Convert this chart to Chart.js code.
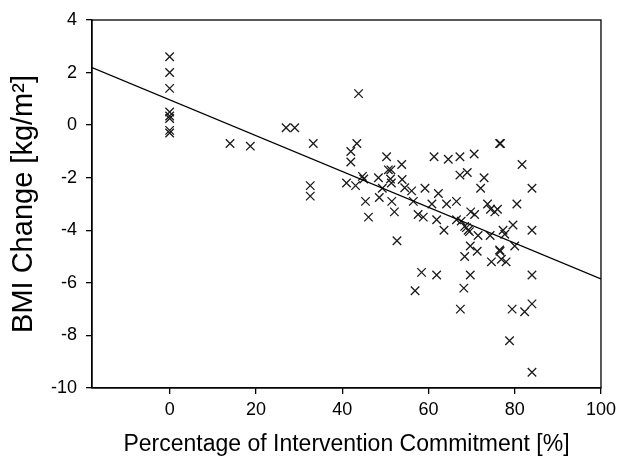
<!DOCTYPE html>
<html>
<head>
<meta charset="utf-8">
<script src="https://cdn.jsdelivr.net/npm/chart.js@4/dist/chart.umd.min.js"></script>
<style>
  html, body { margin: 0; padding: 0; background: #fff; }
  #grafico { display: block; }
</style>
</head>
<body>
<canvas id="grafico" width="621" height="462"></canvas>
<script>
// commitment [%] vs BMI change
const commitX = [
  0, 0, 0, 0, 0, 0, 0, 0,
  14, 18.7, 27, 29, 33.3, 32.6, 32.6,
  41, 42, 42, 43.4, 43.8, 43.1, 44.7, 45, 45.4, 46.1,
  48.4, 48.6, 49.3, 50.3, 50.7, 51.3, 51.2, 51.4, 51.5, 52.1, 52.7,
  53.8, 53.9, 54.5, 56.1, 56.5, 56.9, 57.6, 58.4, 58.8, 59.2,
  60.8, 61.3, 61.9, 61.9, 62.3, 63.6, 64.2, 64.6,
  66.5, 66.5, 67.3, 67.3, 67.6, 67.4, 68.2, 68.4, 68.4, 68.8,
  69.0, 69.2, 69.5, 69.7, 69.7, 69.8, 70.6, 70.7, 71.3, 71.5,
  72.1, 72.9, 73.7, 74.3, 74.4, 74.6, 75.4, 76.0,
  76.5, 76.7, 76.5, 76.6, 76.9, 77.3, 77.7, 78.0, 78.8, 79.4, 79.6,
  80.0, 80.5, 81.7, 82.3, 84, 84, 84, 84, 84
];
const bmiChange = [
  2.6, 2.0, 1.4, 0.5, 0.35, 0.25, -0.2, -0.3,
  -0.7, -0.8, -0.1, -0.1, -0.7, -2.3, -2.7,
  -2.2, -1.0, -1.4, -0.7, 1.2, -2.3, -1.95, -2.05, -2.9, -3.5,
  -2.0, -2.75, -2.4, -1.2, -1.7, -1.7, -2.05, -2.2, -2.9, -3.3, -4.4,
  -1.5, -2.07, -2.38, -2.5, -2.9, -6.3, -3.4, -5.6, -3.5, -2.4,
  -3.0, -1.2, -3.6, -5.7, -2.6, -4.0, -3.0, -1.3,
  -2.9, -3.6, -1.2, -1.9, -3.65, -7.0, -6.2, -3.85, -5.0, -3.9,
  -1.8, -4.0, -4.05, -4.6, -5.7, -3.3, -1.1, -3.4, -4.8, -4.2,
  -2.4, -2.0, -3.0, -4.2, -3.2, -5.2, -3.3, -3.2,
  -0.7, -0.7, -4.75, -4.8, -5.1, -4.0, -4.15, -5.2, -8.2, -7.0, -3.8,
  -4.6, -3.0, -1.5, -7.1, -2.4, -4.0, -5.7, -6.8, -9.4
];

// regression line end points
const fitX = [-18, 100];
const fitY = [2.19, -5.85];

const xTicks = [0, 20, 40, 60, 80, 100];

const pontos = commitX.map((x, i) => ({ x: x, y: bmiChange[i] }));
const reta = fitX.map((x, i) => ({ x: x, y: fitY[i] }));

// moldura do gráfico (topo e direita)
const moldura = {
  id: "moldura",
  afterDraw(chart) {
    const { ctx, chartArea } = chart;
    ctx.save();
    ctx.strokeStyle = "#000";
    ctx.lineWidth = 1.3;
    ctx.strokeRect(chartArea.left, chartArea.top, chartArea.right - chartArea.left, chartArea.bottom - chartArea.top);
    ctx.restore();
  },
};

const fonte = "'Liberation Sans', Arial, sans-serif";

const ctx = document.getElementById("grafico").getContext("2d");
new Chart(ctx, {
  type: "scatter",
  data: {
    datasets: [
      {
        data: pontos,
        pointStyle: "crossRot",
        pointRadius: 6,
        pointHoverRadius: 6,
        borderColor: "#1a1a1a",
        borderWidth: 1.3,
        order: 2,
      },
      {
        type: "line",
        data: reta,
        borderColor: "#000",
        borderWidth: 1.4,
        pointRadius: 0,
        fill: false,
        order: 1,
      },
    ],
  },
  plugins: [moldura],
  options: {
    responsive: false,
    animation: false,
    devicePixelRatio: 1,
    layout: { padding: { top: 20, right: 18, left: 0, bottom: 0 } },
    plugins: { legend: { display: false }, tooltip: { enabled: false } },
    scales: {
      x: {
        type: "linear",
        min: -18,
        max: 100,
        afterBuildTicks: (scale) => {
          scale.ticks = xTicks.map((v) => ({ value: v }));
        },
        afterFit: (scale) => {
          scale.height = 74;
        },
        grid: { drawOnChartArea: false, drawTicks: true, tickLength: 6, color: "#000", lineWidth: 1.3 },
        border: { display: true, color: "#000", width: 1.3 },
        ticks: { color: "#000", font: { family: fonte, size: 18 }, padding: 5, maxRotation: 0 },
        title: {
          display: true,
          text: "Percentage of Intervention Commitment [%]",
          color: "#000",
          font: { family: fonte, size: 23 },
          padding: { top: 0, bottom: 4 },
        },
      },
      y: {
        type: "linear",
        min: -10,
        max: 4,
        ticks: { stepSize: 2, color: "#000", font: { family: fonte, size: 18 }, padding: 9 },
        afterFit: (scale) => {
          scale.width = 92;
        },
        grid: { drawOnChartArea: false, drawTicks: true, tickLength: 6, color: "#000", lineWidth: 1.3 },
        border: { display: true, color: "#000", width: 1.3 },
        title: {
          display: true,
          text: "BMI Change [kg/m²]",
          color: "#000",
          font: { family: fonte, size: 29 },
          padding: { top: 7, bottom: 0 },
        },
      },
    },
  },
});
</script>
</body>
</html>
